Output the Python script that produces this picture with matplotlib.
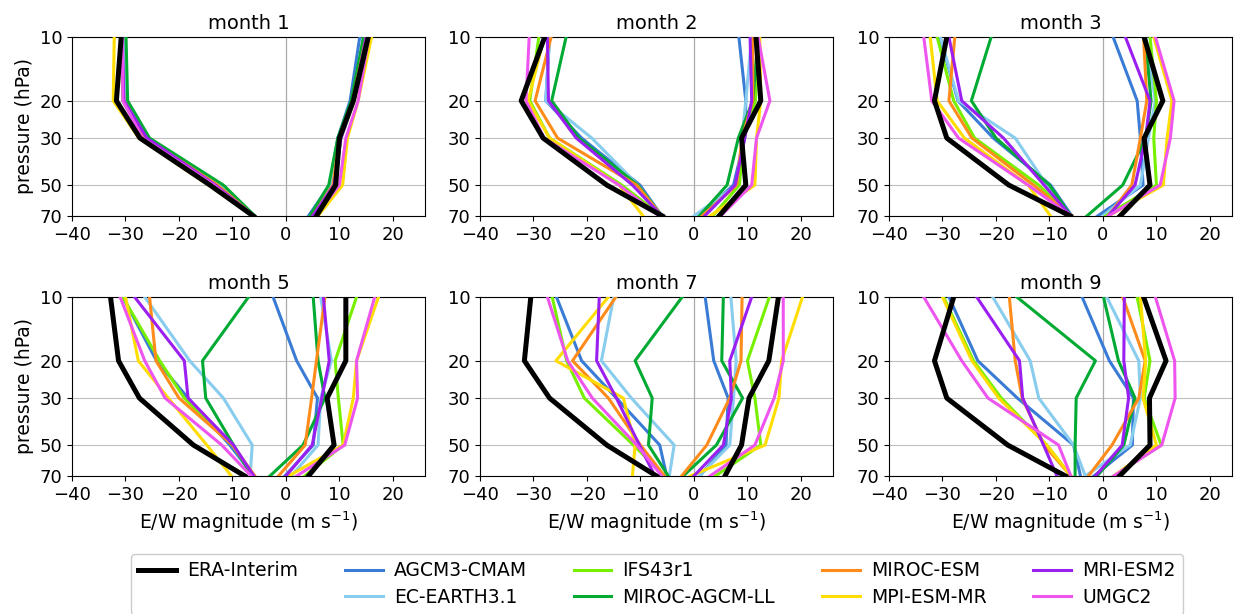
import matplotlib
matplotlib.use("Agg")
import matplotlib.pyplot as plt
from matplotlib.lines import Line2D
from matplotlib.ticker import NullLocator

#===Data===#
PRESSURE = [10, 20, 30, 50, 70]  # [hPa]
MONTHS = [1, 2, 3, 5, 7, 9]

MODELS = ['ERA-Interim', 'AGCM3-CMAM', 'EC-EARTH3.1', 'IFS43r1', 'MIROC-AGCM-LL',
          'MIROC-ESM', 'MPI-ESM-MR', 'MRI-ESM2', 'UMGC2']
COLORS = ['black', '#3a7bd5', '#88ccee', '#77f000', '#00aa33',
          '#ff8c1a', '#ffdd00', '#9b1ff0', '#ee55ee']

# easterly (negative) branch, one row per month, values at PRESSURE levels [m/s]
ERA_EAST = [[-30.8, -31.7, -27.3, -14.2, -6.1], [-27.9, -32.3, -28.2, -16.3, -5.9],
            [-29.2, -31.5, -29.2, -17.6, -6.1], [-32.8, -31.3, -27.4, -17.3, -7.7],
            [-30.5, -31.7, -27.0, -16.3, -7.0], [-27.9, -31.5, -29.2, -17.8, -7.0]]
ERA_WEST = [[15.4, 12.6, 10.0, 9.3, 5.7], [11.6, 12.5, 8.9, 9.7, 4.7],
            [7.7, 11.2, 7.7, 8.8, 3.2], [11.2, 11.2, 7.7, 9.0, 4.2],
            [15.8, 14.0, 10.3, 8.9, 5.8], [7.6, 11.8, 8.7, 8.8, 3.1]]

CMAM_EAST = [[-30.5, -30.2, -26.5, -12.5, -6.0], [-27.0, -27.7, -21.0, -10.1, -6.0],
             [-30.5, -27.1, -20.5, -9.8, -5.8], [-30.5, -24.2, -18.3, -10.5, -6.0],
             [-25.7, -21.0, -14.5, -6.4, -5.1], [-28.8, -23.4, -16.0, -5.5, -4.2]]
CMAM_WEST = [[13.8, 12.0, 9.7, 8.2, 4.2], [8.4, 9.7, 9.5, 7.4, 1.0],
             [1.9, 6.4, 7.0, 7.5, -1.0], [-2.4, 2.0, 5.9, 5.1, -0.2],
             [2.1, 3.7, 6.4, 6.0, 1.1], [-3.9, 1.2, 5.7, 5.5, -1.7]]

ECE_EAST = [[-30.5, -30.0, -26.0, -12.5, -6.0], [-27.0, -27.7, -19.1, -10.5, -6.0],
            [-30.4, -27.0, -16.4, -10.5, -6.0], [-26.4, -18.0, -11.7, -6.3, -6.7],
            [-15.0, -17.3, -11.7, -3.7, -4.6], [-20.6, -13.6, -12.0, -5.5, -3.3]]
ECE_WEST = [[14.5, 12.3, 9.8, 8.5, 4.5], [10.8, 9.7, 9.0, 8.0, 0.0],
            [8.0, 9.8, 8.5, 7.0, 0.0], [6.5, 8.5, 6.5, 6.0, 1.0],
            [6.9, 7.9, 7.4, 6.7, 1.0], [0.7, 6.7, 7.0, 5.1, -3.3]]

IFS_EAST = [[-30.8, -30.5, -26.5, -13.0, -6.0], [-29.0, -30.7, -27.0, -13.5, -6.0],
            [-31.0, -27.9, -24.0, -12.0, -6.0], [-30.5, -23.6, -19.0, -10.0, -6.0],
            [-26.5, -23.8, -20.5, -11.3, -5.5], [-29.8, -24.2, -19.0, -10.5, -6.0]]
IFS_WEST = [[15.0, 12.8, 10.3, 9.0, 5.0], [12.0, 11.5, 9.3, 8.5, 3.5],
            [8.8, 10.0, 9.5, 10.0, 0.5], [13.2, 9.2, 9.8, 10.7, 3.5],
            [14.1, 10.0, 11.4, 12.5, 4.0], [6.4, 8.8, 7.7, 10.9, 2.0]]

MAGCM_EAST = [[-29.9, -29.6, -25.5, -11.7, -5.8], [-23.9, -26.6, -21.5, -10.5, -6.0],
              [-20.9, -24.6, -20.0, -10.0, -6.0], [-7.0, -15.6, -15.0, -9.8, -6.4],
              [-2.2, -11.0, -7.8, -8.5, -4.8], [-16.1, -1.4, -5.0, -5.2, -5.2]]
MAGCM_WEST = [[14.5, 12.2, 9.7, 8.0, 4.5], [12.0, 11.0, 8.3, 6.2, 1.0],
              [7.9, 9.0, 8.0, 3.7, -3.0], [5.1, 6.0, 7.3, 3.2, -3.0],
              [5.5, 5.2, 9.1, 4.2, -2.0], [0.1, 2.9, 6.0, 3.9, -1.1]]

MESM_EAST = [[-30.8, -30.3, -26.2, -12.8, -6.0], [-26.7, -29.7, -25.5, -10.7, -6.0],
             [-27.7, -28.8, -24.5, -13.0, -5.8], [-25.5, -24.3, -20.0, -10.0, -5.8],
             [-14.6, -22.7, -16.0, -10.0, -5.5], [-17.5, -16.4, -15.1, -11.0, -6.0]]
MESM_WEST = [[15.0, 12.5, 10.0, 8.8, 5.0], [11.0, 11.0, 9.0, 8.0, 1.5],
             [7.6, 8.2, 7.0, 5.4, 1.0], [7.3, 5.7, 4.8, 3.6, -1.4],
             [9.0, 8.8, 6.7, 2.4, -2.3], [3.7, 7.9, 6.7, 1.7, -2.7]]

MPI_EAST = [[-32.1, -32.3, -27.5, -14.5, -6.0], [-28.0, -31.0, -27.0, -14.0, -9.5],
            [-32.3, -31.0, -25.9, -14.0, -9.8], [-30.0, -27.6, -22.0, -14.8, -10.2],
            [-16.0, -25.8, -13.2, -11.0, -11.5], [-30.0, -24.5, -19.5, -10.5, -6.0]]
MPI_WEST = [[16.0, 13.5, 11.5, 10.6, 6.0], [12.3, 12.5, 11.7, 11.4, 3.0],
            [9.5, 12.9, 12.0, 11.3, 1.0], [17.3, 13.2, 12.6, 10.7, 0.5],
            [20.3, 16.4, 15.9, 13.3, -0.7], [7.0, 8.0, 7.5, 10.0, 2.0]]

MRI_EAST = [[-30.6, -30.3, -26.0, -13.2, -6.0], [-27.4, -27.2, -22.0, -11.5, -6.0],
            [-28.8, -26.4, -18.6, -11.0, -6.0], [-28.3, -19.0, -18.3, -9.8, -6.0],
            [-17.7, -18.2, -14.5, -10.2, -7.3], [-23.6, -15.6, -15.0, -11.1, -8.6]]
MRI_WEST = [[15.0, 12.7, 10.3, 9.0, 5.0], [10.5, 10.8, 9.5, 7.7, 2.0],
            [4.2, 8.8, 8.0, 6.0, 1.0], [7.0, 8.1, 6.7, 4.9, 0.0],
            [10.8, 6.7, 7.0, 5.5, 0.0], [4.0, 3.9, 4.8, 3.6, -1.4]]

UMGC_EAST = [[-30.6, -30.5, -26.8, -13.5, -6.2], [-30.8, -31.4, -28.0, -14.0, -6.5],
             [-33.5, -32.0, -27.0, -14.0, -6.0], [-31.0, -26.4, -22.6, -12.0, -6.5],
             [-27.4, -23.6, -19.0, -10.7, -6.0], [-33.5, -26.4, -21.5, -8.3, -6.0]]
UMGC_WEST = [[15.5, 13.5, 11.2, 10.0, 5.5], [12.0, 14.2, 11.7, 10.8, 5.0],
             [9.8, 13.3, 12.6, 10.7, 1.0], [16.6, 13.2, 13.4, 11.0, 2.0],
             [16.7, 16.7, 15.0, 11.4, 3.0], [9.8, 13.4, 13.5, 11.0, 2.0]]

EAST = [ERA_EAST, CMAM_EAST, ECE_EAST, IFS_EAST, MAGCM_EAST, MESM_EAST, MPI_EAST, MRI_EAST, UMGC_EAST]
WEST = [ERA_WEST, CMAM_WEST, ECE_WEST, IFS_WEST, MAGCM_WEST, MESM_WEST, MPI_WEST, MRI_WEST, UMGC_WEST]

XTICKS = [-40, -30, -20, -10, 0, 10, 20]

#===Figure===#
W, H = 1235, 614
fig = plt.figure(figsize=(W / 100, H / 100), dpi=100)

LEFTS = [72, 480, 889]
TOPS = [37, 297]
AX_W, AX_H = 353, 179

for k, month in enumerate(MONTHS):
    row, col = divmod(k, 3)
    width = AX_W if col < 2 else W - 3 - LEFTS[col]
    ax = fig.add_axes([LEFTS[col] / W, 1 - (TOPS[row] + AX_H) / H, width / W, AX_H / H])

    for i in range(1, len(MODELS)):
        ax.plot(EAST[i][k], PRESSURE, color=COLORS[i], lw=2.2, zorder=3)
        ax.plot(WEST[i][k], PRESSURE, color=COLORS[i], lw=2.2, zorder=3)
    ax.plot(EAST[0][k], PRESSURE, color=COLORS[0], lw=3.6, zorder=4)
    ax.plot(WEST[0][k], PRESSURE, color=COLORS[0], lw=3.6, zorder=4)

    ax.set_yscale('log')
    ax.set_ylim(70, 10)
    ax.set_yticks(PRESSURE)
    ax.set_yticklabels([str(p) for p in PRESSURE])
    ax.yaxis.set_minor_locator(NullLocator())
    ax.set_xticks(XTICKS)
    ax.set_xticklabels([f'\u2212{-x}' if x < 0 else str(x) for x in XTICKS])
    ax.set_xlim(-40, -40 + 66 * width / AX_W)
    ax.grid(axis='y', color='#b0b0b0', lw=0.8, alpha=0.8)
    ax.axvline(0, color='#aaaaaa', lw=0.9, zorder=1)
    ax.tick_params(labelsize=13)
    ax.set_title(f'month {month}', fontsize=14)
    if col == 0:
        ax.set_ylabel('pressure (hPa)', fontsize=13.5)
    if row == 1:
        ax.set_xlabel('E/W magnitude (m s$^{-1}$)', fontsize=13.5)

handles = [Line2D([], [], color=COLORS[0], lw=3.6, label=MODELS[0]),
           Line2D([], [], color='none', label=' ')]
handles += [Line2D([], [], color=c, lw=2.2, label=m) for m, c in zip(MODELS[1:], COLORS[1:])]
fig.legend(handles=handles, loc='upper center', bbox_to_anchor=(657 / W, 1 - 554 / H),
           borderaxespad=0, ncol=5, fontsize=13.5, handlelength=2.0, handletextpad=0.6,
           columnspacing=2.5, labelspacing=0.4, framealpha=1)

fig.savefig('out.png', dpi=100)
